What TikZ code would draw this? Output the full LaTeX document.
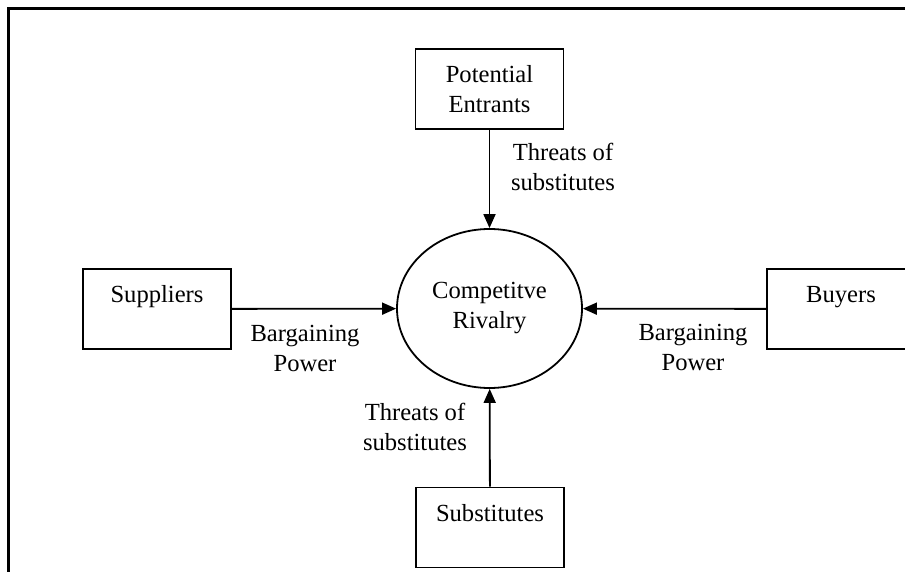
\documentclass[tikz,border=0pt]{standalone}
\usepackage{fontspec}
\setmainfont{Liberation Serif}
\usetikzlibrary{arrows.meta,shapes.geometric}
\begin{document}
\begin{tikzpicture}[x=1pt,y=-1pt,
  every node/.style={font=\fontsize{24.6}{30}\selectfont, align=center, inner sep=0pt},
  box/.style={draw, line width=1.8pt, rectangle, minimum width=148pt, minimum height=80pt},
  oval/.style={draw, line width=1.8pt, ellipse, minimum width=185pt, minimum height=159pt},
  conn/.style={line width=1.8pt, -{Triangle[length=14pt,width=12pt]}},
  lbl/.style={}]
\useasboundingbox (0,0) rectangle (905,572);
\fill[white] (0,0) rectangle (905,572);
\draw[line width=3pt] (8,573) -- (8,9) -- (906,9);
\node[box] (pe) at (489.5,89) {Potential\\Entrants};
\node[box] (sup) at (157,309) {Suppliers\\\mbox{}};
\node[box] (buy) at (841,309) {Buyers\\\mbox{}};
\node[box] (subs) at (490,527.5) {Substitutes\\\mbox{}};
\node[oval] (cr) at (489.5,308.5) {Competitve\\Rivalry};
\draw[conn] (pe) -- (cr);
\draw[conn] (sup) -- (cr);
\draw[conn] (buy) -- (cr);
\draw[conn] (subs) -- (cr);
\node[lbl] (l1) at (563,167) {Threats of\\substitutes};
\node[lbl] (l2) at (305,348) {Bargaining\\Power};
\node[lbl] (l3) at (693,347) {Bargaining\\Power};
\node[lbl] (l4) at (415,427) {Threats of\\substitutes};
\end{tikzpicture}
\end{document}
